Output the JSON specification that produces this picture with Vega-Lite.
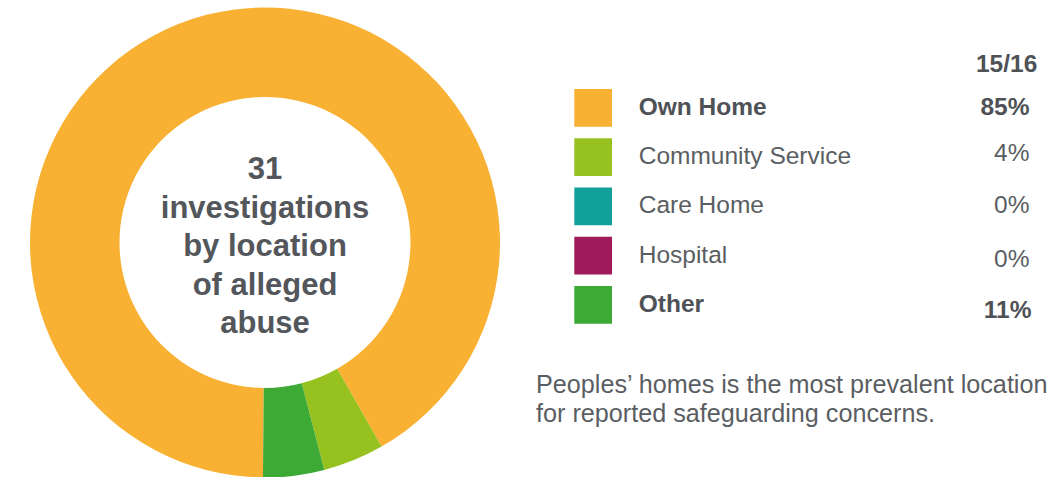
{
  "$schema": "https://vega.github.io/schema/vega-lite/v6.json",
  "padding": 0,
  "spacing": 0,
  "background": "white",
  "config": {"view": {"stroke": null}, "font": "Liberation Sans"},
  "datasets": {
    "locs": [
      {"location": "Own Home", "pct": "85%", "share": 91.6, "rank": 1},
      {"location": "Community Service", "pct": "4%", "share": 4.2, "rank": 2},
      {"location": "Care Home", "pct": "0%", "share": 0, "rank": 3},
      {"location": "Hospital", "pct": "0%", "share": 0, "rank": 4},
      {"location": "Other", "pct": "11%", "share": 4.2, "rank": 5}
    ]
  },
  "hconcat": [
    {
      "width": 530,
      "height": 485,
      "layer": [
        {
          "data": {"name": "locs"},
          "mark": {"type": "arc", "radius": 235, "radius2": 145.5},
          "encoding": {
            "theta": {"field": "share", "type": "quantitative", "stack": true, "scale": {"range": [3.1503, 9.4335]}},
            "order": {"field": "rank", "type": "quantitative"},
            "color": {
              "field": "location", "type": "nominal", "legend": null,
              "scale": {
                "domain": ["Own Home", "Community Service", "Care Home", "Hospital", "Other"],
                "range": ["#F8B133", "#97C11F", "#11A09A", "#A0195A", "#3DAA35"]
              }
            }
          }
        },
        {
          "data": {"values": [{}]},
          "mark": {
            "type": "text",
            "text": ["31", "investigations", "by location", "of alleged", "abuse"],
            "align": "center",
            "baseline": "alphabetic",
            "lineHeight": 38.5,
            "fontSize": 31,
            "fontWeight": "bold",
            "color": "#53575b"
          },
          "encoding": {
            "x": {"value": 265},
            "y": {"value": 179}
          }
        }
      ]
    },
    {
      "width": 532,
      "height": 485,
      "data": {"name": "locs"},
      "encoding": {
        "y": {"field": "location", "type": "nominal", "sort": ["Own Home", "Community Service", "Care Home", "Hospital", "Other"], "axis": null,
              "scale": {"range": [89, 323.7], "paddingInner": 0.2345, "paddingOuter": 0}}
      },
      "layer": [
        {
          "mark": {"type": "rect"},
          "encoding": {
            "x": {"value": 44.3},
            "x2": {"value": 82},
            "color": {
              "field": "location", "type": "nominal", "legend": null,
              "scale": {
                "domain": ["Own Home", "Community Service", "Care Home", "Hospital", "Other"],
                "range": ["#F8B133", "#97C11F", "#11A09A", "#A0195A", "#3DAA35"]
              }
            }
          }
        },
        {
          "transform": [{"filter": "datum.location === 'Own Home' || datum.location === 'Other'"}],
          "mark": {"type": "text", "align": "left", "baseline": "middle", "fontSize": 24.5, "fontWeight": "bold", "color": "#4e5256"},
          "encoding": {"x": {"value": 108.7}, "text": {"field": "location"}}
        },
        {
          "transform": [{"filter": "datum.location !== 'Own Home' && datum.location !== 'Other'"}],
          "mark": {"type": "text", "align": "left", "baseline": "middle", "fontSize": 24.5, "color": "#5a5e62"},
          "encoding": {"x": {"value": 108.7}, "text": {"field": "location"}}
        },
        {
          "transform": [{"filter": "datum.location === 'Own Home'"}],
          "mark": {"type": "text", "align": "right", "baseline": "middle", "fontSize": 24.5, "fontWeight": "bold", "color": "#4e5256"},
          "encoding": {"x": {"value": 499.5}, "text": {"field": "pct"}}
        },
        {
          "transform": [{"filter": "datum.location === 'Other'"}],
          "mark": {"type": "text", "align": "right", "baseline": "middle", "fontSize": 24.5, "fontWeight": "bold", "color": "#4e5256", "dy": 6.6},
          "encoding": {"x": {"value": 501.5}, "text": {"field": "pct"}}
        },
        {
          "transform": [{"filter": "datum.location === 'Community Service'"}],
          "mark": {"type": "text", "align": "right", "baseline": "middle", "fontSize": 24.5, "color": "#5a5e62", "dy": -3.5},
          "encoding": {"x": {"value": 499.5}, "text": {"field": "pct"}}
        },
        {
          "transform": [{"filter": "datum.location === 'Care Home'"}],
          "mark": {"type": "text", "align": "right", "baseline": "middle", "fontSize": 24.5, "color": "#5a5e62"},
          "encoding": {"x": {"value": 499.5}, "text": {"field": "pct"}}
        },
        {
          "transform": [{"filter": "datum.location === 'Hospital'"}],
          "mark": {"type": "text", "align": "right", "baseline": "middle", "fontSize": 24.5, "color": "#5a5e62", "dy": 4},
          "encoding": {"x": {"value": 499.5}, "text": {"field": "pct"}}
        },
        {
          "data": {"values": [{}]},
          "mark": {"type": "text", "text": "15/16", "align": "right", "baseline": "middle", "fontSize": 24.5, "fontWeight": "bold", "color": "#4e5256"},
          "encoding": {"x": {"value": 507.3}, "y": {"value": 64.7}}
        },
        {
          "data": {"values": [{}]},
          "mark": {
            "type": "text",
            "text": ["Peoples’ homes is the most prevalent location", "for reported safeguarding concerns."],
            "align": "left", "baseline": "alphabetic",
            "lineHeight": 29, "fontSize": 25.2, "color": "#5a5e62"
          },
          "encoding": {"x": {"value": 6}, "y": {"value": 392.5}}
        }
      ]
    }
  ]
}
